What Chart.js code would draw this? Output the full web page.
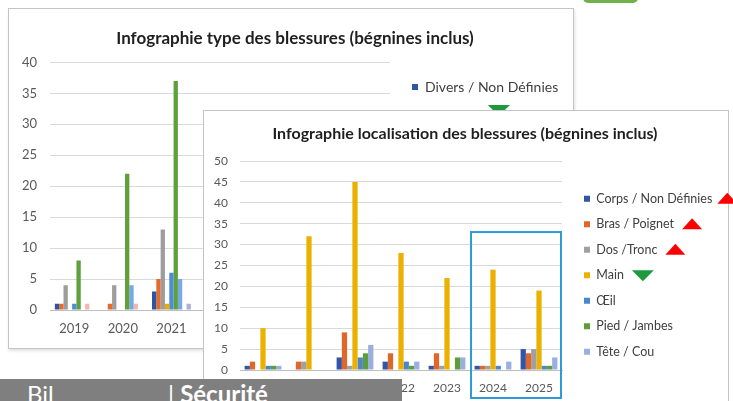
<!DOCTYPE html>
<html lang="fr">
<head>
<meta charset="UTF-8">
<script src="https://cdn.jsdelivr.net/npm/chart.js"></script>
<title>Infographie blessures</title>
<style>
    body {
        margin: 0;
        width: 733px;
        height: 401px;
        overflow: hidden;
        position: relative;
        background: #ffffff;
        font-family: Lato, 'Open Sans', sans-serif;
    }
    .cadre {
        position: absolute;
        background: #ffffff;
        border: 1px solid #c4c4c4;
    }
    #cadre1 { left: 8px; top: 8px; width: 564px; height: 339px; box-shadow: 1px 2px 3px rgba(0,0,0,0.12); z-index: 1; }
    #cadre2 { left: 203px; top: 110px; width: 524px; height: 300px; z-index: 3; }
    canvas { position: absolute; }
    #c1 { left: 8px; top: 8px; z-index: 2; }
    #c2 { left: 203px; top: 110px; z-index: 4; }
    #deco { position: absolute; left: 583px; top: -7px; width: 55px; height: 10px; border-radius: 5px; background: #72b04e; }
    #bandeau {
        position: absolute; left: 0; top: 379px; width: 402px; height: 30px;
        background: #7f7f7f; color: #ffffff; font-size: 24px; line-height: 30px; z-index: 5;
    }
    #bandeau span { position: absolute; top: 0; }
</style>
</head>
<body>
<div id="deco"></div>
<div class="cadre" id="cadre1"></div>
<canvas id="c1" width="565" height="340"></canvas>
<div class="cadre" id="cadre2"></div>
<canvas id="c2" width="530" height="291"></canvas>
<div id="bandeau"><span style="left:27px">Bil</span><span style="left:168px">| <b>Sécurité</b></span></div>

<script>
// années communes aux deux graphiques
const annees = ['2019', '2020', '2021', '2022', '2023', '2024', '2025'];

// graphique 1 : type des blessures (2022-2025 masquées par le 2e graphique)
const typeNoms = ['Divers / Non Définies', 'Coupures', 'Contusions', 'Brûlures', 'Entorses',
                  'Écrasements', 'Piqûres', 'Projections', 'Autres'];
const typeCouleurs = ['#2e54a3', '#e46c2a', '#9d9d9d', '#e6ad00', '#4f8bd6',
                      '#5fa03a', '#79a8e6', '#f2b8b0', '#aeb0d6'];
const divers      = [1, 0, 3, null, null, null, null];
const coupures    = [1, 1, 5, null, null, null, null];
const contusions  = [4, 4, 13, null, null, null, null];
const brulures    = [0, 0, 1, null, null, null, null];
const entorses    = [1, 0, 6, null, null, null, null];
const ecrasements = [8, 22, 37, null, null, null, null];
const piqures     = [0, 4, 5, null, null, null, null];
const projections = [1, 1, 0, null, null, null, null];
const autres      = [0, 0, 1, null, null, null, null];
const typeTicks = [0, 5, 10, 15, 20, 25, 30, 35, 40];

// graphique 2 : localisation des blessures
const locNoms = ['Corps / Non Définies', 'Bras / Poignet', 'Dos /Tronc', 'Main', 'Œil', 'Pied / Jambes', 'Tête / Cou'];
const locCouleurs = ['#3355a5', '#e0662a', '#a0a0a0', '#ebb000', '#4a86cf', '#5e9e3a', '#9aaee0'];
const corps = [1, 0, 3, 2, 1, 1, 5];
const bras  = [2, 2, 9, 4, 4, 1, 4];
const dos   = [0, 2, 1, 0, 1, 1, 5];
const main  = [10, 32, 45, 28, 22, 24, 19];
const oeil  = [1, 0, 3, 2, 0, 1, 1];
const pied  = [1, 0, 4, 1, 3, 0, 1];
const tete  = [1, 0, 6, 2, 3, 2, 3];
const locTicks = [0, 5, 10, 15, 20, 25, 30, 35, 40, 45, 50];

// tendances affichées à côté de la légende (index, sens)
const tendancesType = [{ index: 1, haut: false, dx: -4, dy: -7 }];
const tendancesLoc = [
    { index: 0, haut: true, dx: -3 },
    { index: 1, haut: true },
    { index: 2, haut: true },
    { index: 3, haut: false }
];

// titre centré sur le cadre, légende placée librement, triangles, cadre bleu
const legendePlacee = {
    id: 'legendePlacee',
    afterLayout(chart, args, opts) {
        const lg = chart.legend;
        lg.left = opts.x;
        lg.top = opts.y;
        lg.right = chart.width;
        lg.bottom = chart.height;
        const t = chart.titleBlock;
        t.left = opts.titre[0];
        t.right = opts.titre[1];
    },
    afterDraw(chart, args, opts) {
        const ctx = chart.ctx;
        const boites = chart.legend.legendHitBoxes;
        (opts.tendances || []).forEach(t => {
            const b = boites[t.index];
            const x = b.left + b.width + 8 + (t.dx || 0);
            const cy = b.top + b.height / 2 + (t.dy || 0);
            ctx.save();
            ctx.beginPath();
            if (t.haut) {
                ctx.fillStyle = '#ff0000';
                ctx.moveTo(x, cy + 5);
                ctx.lineTo(x + 20, cy + 5);
                ctx.lineTo(x + 10, cy - 6);
            } else {
                ctx.fillStyle = '#1e9a3c';
                ctx.moveTo(x, cy - 5);
                ctx.lineTo(x + 22, cy - 5);
                ctx.lineTo(x + 11, cy + 6);
            }
            ctx.closePath();
            ctx.fill();
            ctx.restore();
        });
        if (opts.cadre) {
            const sx = chart.scales.x, sy = chart.scales.y;
            const demi = (sx.right - sx.left) / annees.length / 2;
            const g = sx.getPixelForValue(opts.cadre.de) - demi + 1;
            const d = sx.getPixelForValue(opts.cadre.a) + demi - 1;
            const h = sy.getPixelForValue(opts.cadre.valeur);
            const bas = sx.bottom - 3;
            ctx.save();
            ctx.strokeStyle = '#2e9ad6';
            ctx.lineWidth = 2;
            ctx.strokeRect(g, h, d - g, bas - h);
            ctx.restore();
        }
    }
};

function series(noms, couleurs, valeurs) {
    return noms.map((nom, i) => ({
        label: nom,
        data: valeurs[i],
        backgroundColor: couleurs[i],
        borderWidth: 0,
        categoryPercentage: 0.8,
        barPercentage: 1.0
    }));
}

function options(cfg) {
    return {
        responsive: false,
        animation: false,
        devicePixelRatio: 1,
        layout: { padding: { left: 0, right: cfg.droite, top: 0, bottom: 0 } },
        plugins: {
            title: {
                display: true,
                text: cfg.titre,
                color: '#1f1f1f',
                font: { family: 'Lato', size: cfg.tailleTitre, weight: 'bold' },
                padding: cfg.padTitre
            },
            legend: {
                position: 'chartArea',
                align: 'start',
                labels: {
                    boxWidth: 6,
                    boxHeight: 6,
                    padding: cfg.padLegende,
                    color: '#404040',
                    font: { family: 'Lato', size: cfg.tailleLegende }
                }
            },
            tooltip: { enabled: false },
            legendePlacee: cfg.placement
        },
        scales: {
            x: {
                grid: { display: false, drawTicks: false },
                border: { display: true, color: '#bfbfbf' },
                ticks: { color: '#595959', font: { family: 'Lato', size: cfg.taille }, padding: cfg.padX, maxRotation: 0 },
                afterFit: s => { s.height = cfg.hauteurX; }
            },
            y: {
                min: 0,
                max: cfg.ticks[cfg.ticks.length - 1],
                grid: { color: '#d9d9d9', drawTicks: false },
                border: { display: false },
                afterBuildTicks: s => { s.ticks = cfg.ticks.map(v => ({ value: v })); },
                ticks: { color: '#595959', font: { family: 'Lato', size: cfg.taille }, padding: cfg.padY },
                afterFit: s => { s.width = cfg.largeurY; }
            }
        }
    };
}

new Chart(document.getElementById('c1'), {
    type: 'bar',
    data: {
        labels: annees,
        datasets: series(typeNoms, typeCouleurs,
            [divers, coupures, contusions, brulures, entorses, ecrasements, piqures, projections, autres])
    },
    options: options({
        titre: 'Infographie type des blessures (bégnines inclus)',
        tailleTitre: 17, padTitre: { top: 20, bottom: 14 },
        taille: 13, tailleLegende: 14, padLegende: 16, padX: 11, padY: 13,
        hauteurX: 38, largeurY: 42, droite: 183, ticks: typeTicks,
        placement: { x: 388, y: 56, titre: [9, 565], tendances: tendancesType }
    }),
    plugins: [legendePlacee]
});

new Chart(document.getElementById('c2'), {
    type: 'bar',
    data: {
        labels: annees,
        datasets: series(locNoms, locCouleurs, [corps, bras, dos, main, oeil, pied, tete])
    },
    options: options({
        titre: 'Infographie localisation des blessures (bégnines inclus)',
        tailleTitre: 16, padTitre: { top: 14, bottom: 17.8 },
        taille: 12, tailleLegende: 12.5, padLegende: 13, padX: 11, padY: 12,
        hauteurX: 31, largeurY: 37, droite: 171, ticks: locTicks,
        placement: { x: 368, y: 69.5, titre: [0, 524], tendances: tendancesLoc, cadre: { de: 5, a: 6, valeur: 33 } }
    }),
    plugins: [legendePlacee]
});
</script>
</body>
</html>
